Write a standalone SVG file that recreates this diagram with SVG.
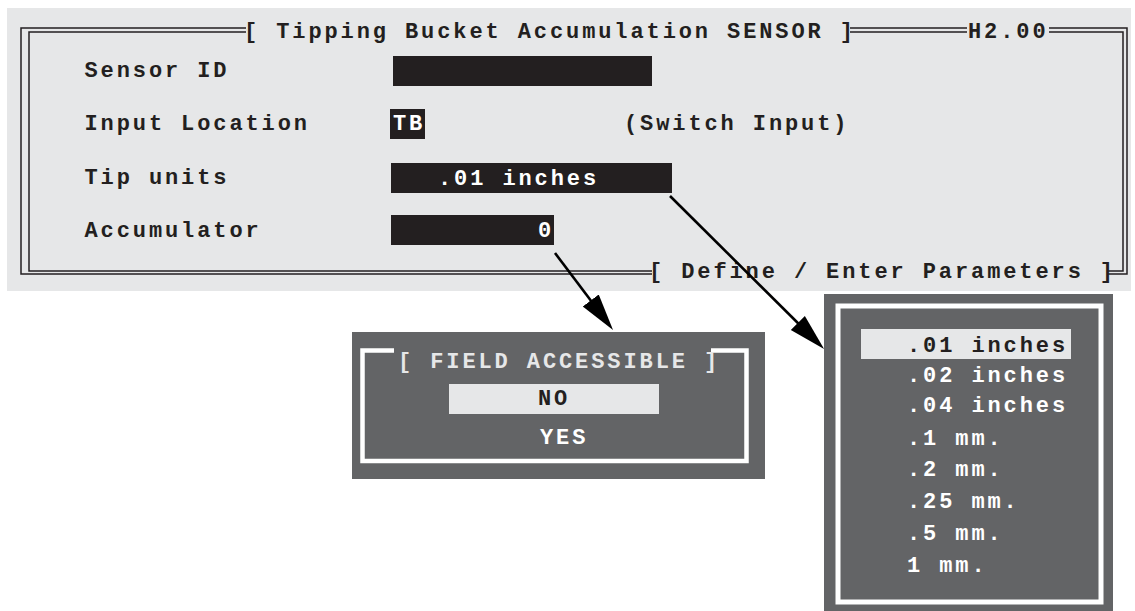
<svg xmlns="http://www.w3.org/2000/svg" width="1135" height="611" viewBox="0 0 1135 611">
<defs>
<style>
.t{font-family:"Liberation Mono","Courier New",monospace;font-weight:bold;font-size:22px;letter-spacing:2.9px;}
.dk{fill:#231f20;}
.wh{fill:#ffffff;}
.lg{fill:#e6e7e8;}
.bl{stroke:#231f20;stroke-width:1.5;fill:none;}
.wf{stroke:#ffffff;stroke-width:4.5;fill:none;}
.ar{stroke:#000;stroke-width:2.6;fill:none;marker-end:url(#ah);}
</style>
<marker id="ah" markerUnits="userSpaceOnUse" viewBox="0 -11 38 22" markerWidth="38" markerHeight="22" refX="27" refY="0" orient="auto">
<path d="M0,-10 L37,0 L0,10 Z" fill="#000"/>
</marker>
</defs>
<rect width="1135" height="611" fill="#ffffff"/>

<g id="main-panel">
<rect x="7" y="8" width="1124" height="283" class="lg"/>
<path class="bl" d="M246,28 H21 V274 H652 M1108,274 H1127 V28 H1049 M967,28 H850"/>
<path class="bl" d="M246,32 H29 V271 H652 M1108,271 H1123 V32 H1049 M967,32 H850"/>
<text class="t dk" x="244" y="38">[ Tipping Bucket Accumulation SENSOR ]</text>
<text class="t dk" x="968" y="38">H2.00</text>
<text class="t dk" x="649" y="278">[ Define / Enter Parameters ]</text>
</g>

<g id="sensor-id">
<text class="t dk" x="84.5" y="77">Sensor ID</text>
<rect x="393" y="56" width="259" height="30" class="dk"/>
</g>

<g id="input-location">
<text class="t dk" x="84.5" y="130">Input Location</text>
<rect x="390" y="109" width="35" height="30" class="dk"/>
<text class="t wh" x="393" y="130">TB</text>
<text class="t dk" x="624" y="130">(Switch Input)</text>
</g>

<g id="tip-units">
<text class="t dk" x="84.5" y="184">Tip units</text>
<rect x="391" y="163" width="281" height="30" class="dk"/>
<text class="t wh" x="438" y="185">.01 inches</text>
</g>

<g id="accumulator">
<text class="t dk" x="84.5" y="237">Accumulator</text>
<rect x="391" y="215" width="163" height="30" class="dk"/>
<text class="t wh" x="538" y="237">0</text>
</g>

<g id="field-accessible">
<rect x="352" y="332" width="413" height="147" fill="#636466"/>
<path class="wf" d="M394,350.5 H362.5 V461 H746.5 V350.5 H711"/>
<text class="t lg" x="398" y="368">[ FIELD ACCESSIBLE ]</text>
<rect x="449" y="384" width="210" height="30" class="lg"/>
<text class="t dk" x="538" y="405">NO</text>
<text class="t wh" x="540" y="444">YES</text>
</g>

<g id="tip-units-menu">
<rect x="824" y="294" width="289" height="317" fill="#636466"/>
<rect x="838" y="306" width="263" height="296" fill="none" stroke="#ffffff" stroke-width="5"/>
<rect x="861" y="329" width="210" height="30" class="lg"/>
<text class="t dk" x="907" y="352">.01 inches</text>
<text class="t wh" x="907" y="382">.02 inches</text>
<text class="t wh" x="907" y="412">.04 inches</text>
<text class="t wh" x="907" y="445">.1 mm.</text>
<text class="t wh" x="907" y="476">.2 mm.</text>
<text class="t wh" x="907" y="508">.25 mm.</text>
<text class="t wh" x="907" y="540">.5 mm.</text>
<text class="t wh" x="907" y="572">1 mm.</text>
</g>

<g id="connectors">
<line class="ar" x1="555" y1="253" x2="607" y2="322"/>
<line class="ar" x1="670" y1="196" x2="817" y2="342"/>
</g>
</svg>
